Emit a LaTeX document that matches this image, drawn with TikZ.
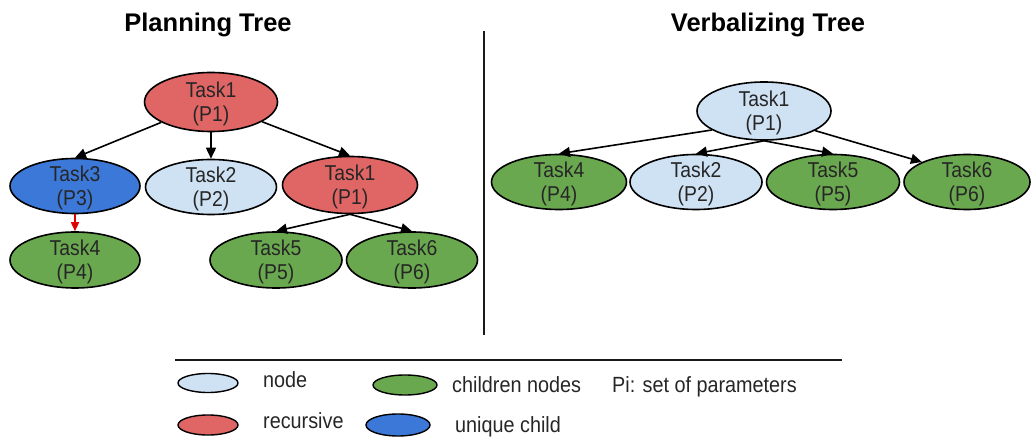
\documentclass[tikz,border=0pt]{standalone}
\usepackage{fontspec}
\setmainfont{Liberation Sans}
\newfontfamily\narrowsans[FakeStretch=0.9]{Liberation Sans}
\usetikzlibrary{shapes.geometric,arrows.meta}
\definecolor{cnode}{HTML}{CFE2F3}
\definecolor{crec}{HTML}{E06666}
\definecolor{cchild}{HTML}{6AA84F}
\definecolor{cuniq}{HTML}{3C78D8}
\definecolor{carrred}{HTML}{E00000}
\tikzset{
  el/.style={ellipse,draw=black,line width=1.6pt,inner sep=0pt},
  tasktext/.style={font=\narrowsans\fontsize{21.5}{24}\selectfont,align=center,inner sep=0pt,yshift=-2pt,text=black!85},
  task/.style={el,minimum height=55pt,label={[tasktext]center:#1}},
  arr/.style={-{Triangle[length=11pt,width=10pt]},line width=1.6pt,draw=black},
  redarr/.style={arr,draw=carrred,-{Triangle[length=9pt,width=8pt]}},
  title/.style={font=\fontsize{25.5}{29}\selectfont\bfseries,anchor=base,inner sep=0pt},
  legtext/.style={font=\narrowsans\fontsize{22}{25}\selectfont,anchor=base west,inner sep=0pt,text=black!85},
  legel/.style={el,line width=1.4pt},
  rule/.style={line width=1.8pt,draw=black!90}
}
\begin{document}
\begin{tikzpicture}[x=1pt,y=-1pt]
\useasboundingbox (0,0) rectangle (1031,438);

% titles
\node[title] (tp) at (208,32) {Planning Tree};
\node[title] (tv) at (768,32) {Verbalizing Tree};

% separator
\draw[rule] (484,31) -- (484,335);

% Planning tree
\node[task={Task1\\(P1)},fill=crec,minimum width=133pt,minimum height=59pt] (p1) at (211,102) {};
\node[task={Task3\\(P3)},fill=cuniq,minimum width=130pt] (p3) at (75,186) {};
\node[task={Task2\\(P2)},fill=cnode,minimum width=131pt] (p2) at (211,187) {};
\node[task={Task1\\(P1)},fill=crec,minimum width=135pt,minimum height=57pt] (p1b) at (350,185) {};
\node[task={Task4\\(P4)},fill=cchild,minimum width=130pt,minimum height=56pt] (p4) at (75,260) {};
\node[task={Task5\\(P5)},fill=cchild,minimum width=132pt,minimum height=56pt] (p5) at (276,260) {};
\node[task={Task6\\(P6)},fill=cchild,minimum width=131pt,minimum height=56pt] (p6) at (412,260) {};

\draw[arr] (p1) -- (p3.north);
\draw[arr] (p1.south) -- (p2.north);
\draw[arr] (p1) -- (p1b.north);
\draw[redarr] (p3.south) -- (p4.north);
\draw[arr] (p1b.south) -- (p5.north);
\draw[arr] (p1b.south) -- (p6.north);

% Verbalizing tree
\node[task={Task1\\(P1)},fill=cnode,minimum width=134pt,minimum height=58pt] (v1) at (764,111) {};
\node[task={Task4\\(P4)},fill=cchild,minimum width=135pt] (v4) at (559,182) {};
\node[task={Task2\\(P2)},fill=cnode,minimum width=132pt] (v2) at (696,182) {};
\node[task={Task5\\(P5)},fill=cchild,minimum width=133pt] (v5) at (833,182) {};
\node[task={Task6\\(P6)},fill=cchild,minimum width=126pt] (v6) at (967,182) {};

\draw[arr] (v1.200) -- (v4.north);
\draw[arr] (v1.south) -- (v2.north);
\draw[arr] (v1.south) -- (v5.north);
\draw[arr] (v1.339) -- (v6.north west);

% legend
\draw[rule] (175,360) -- (842,360);
\node[legel,fill=cnode,minimum width=60pt,minimum height=19pt] (lnode) at (208,383) {};
\node[legel,fill=crec,minimum width=60pt,minimum height=20pt] (lrec) at (208,425) {};
\node[legel,fill=cchild,minimum width=64pt,minimum height=20pt] (lchild) at (405,385) {};
\node[legel,fill=cuniq,minimum width=64pt,minimum height=22pt] (luniq) at (398,425) {};
\node[legtext] (tnode) at (263,387) {node};
\node[legtext] (trec) at (263,428) {recursive};
\node[legtext] (tchild) at (452,392) {children nodes};
\node[legtext] (tuniq) at (455,432) {unique child};
\node[legtext] (tpi) at (612,392) {Pi: set of parameters};
\end{tikzpicture}
\end{document}
